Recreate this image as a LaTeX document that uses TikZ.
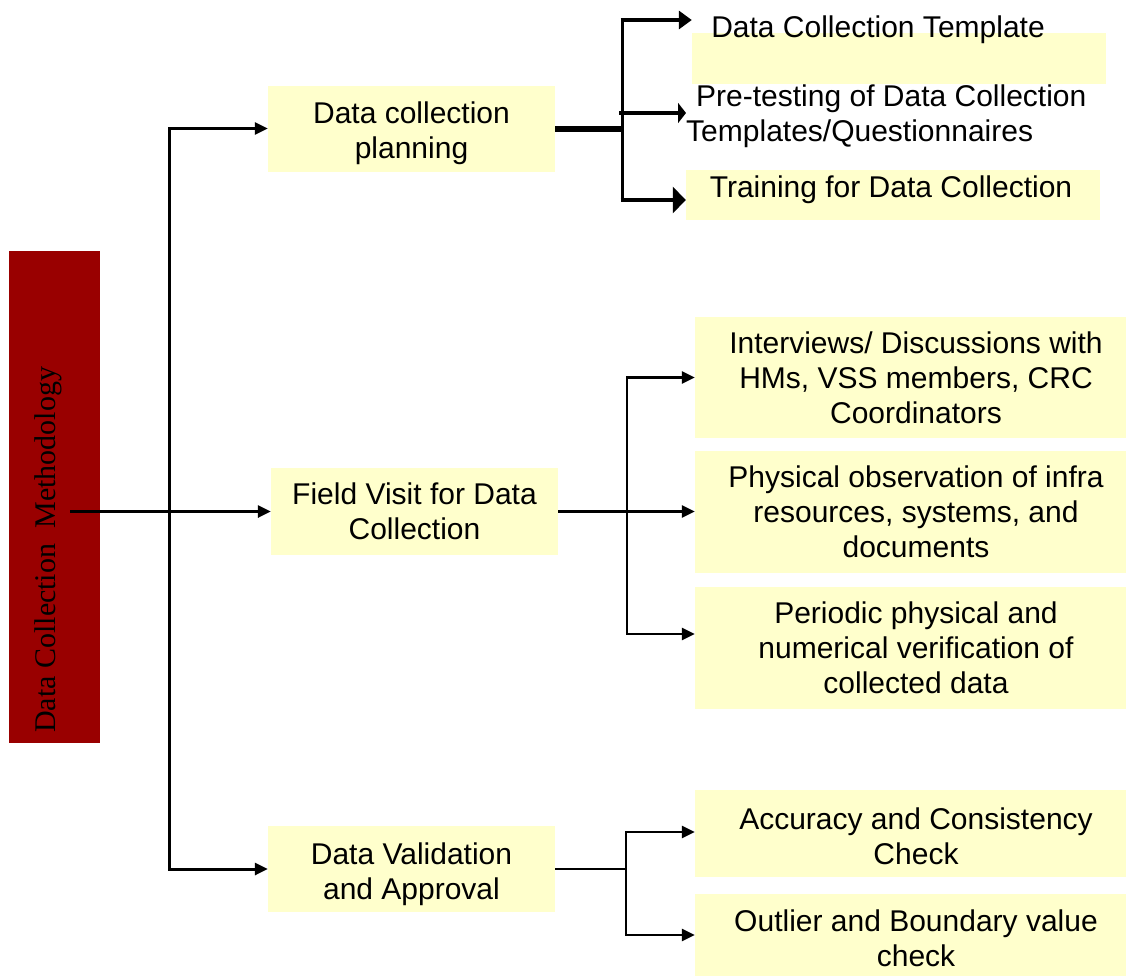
\documentclass[tikz,border=0pt]{standalone}
\usepackage{fontspec}
\setmainfont{Liberation Sans}
\newfontfamily\titleface{Liberation Serif}
\usetikzlibrary{arrows.meta}
\definecolor{boxfill}{HTML}{FFFFCC}
\definecolor{barred}{HTML}{990000}

\begin{document}
\begin{tikzpicture}[x=1pt,y=-1pt,
  box/.style={fill=boxfill, draw=none, inner sep=0pt, align=center,
              font=\fontsize{30}{35}\selectfont},
  lbl/.style={inner sep=0pt, font=\fontsize{30}{35}\selectfont},
  link/.style={line width=2.8pt, -{Triangle[length=13pt,width=12pt]}},
  bare/.style={line width=2.8pt},
]
\useasboundingbox (0,0) rectangle (1126,975);

% title bar
\node[fill=barred, inner sep=0pt, minimum width=91pt, minimum height=492pt] (bar) at (54.5,497) {};
\node[inner sep=0pt, rotate=90, anchor=base west, font=\titleface\fontsize{30}{35}\selectfont]
  (title) at (55,733) {Data Collection\ \ Methodology};

% first level
\node[box, minimum width=287pt, minimum height=86pt] (plan) at (411.5,128.5) {};
\node[lbl, align=center] (plantext) at ([yshift=-5pt]plan.center) {Data collection\\planning};
\node[box, minimum width=287pt, minimum height=87pt] (field) at (414.5,511.5) {Field Visit for Data\\Collection};
\node[box, minimum width=287pt, minimum height=86pt] (valid) at (411.5,869) {};
\node[lbl, align=center] (validtext) at ([yshift=-5pt]valid.center) {Data Validation\\and Approval};

% planning branch
\node[box, minimum width=414pt, minimum height=51pt] (tplbox) at (899,58.5) {};
\node[lbl, anchor=base] (tpl) at (878,37) {Data Collection Template};
\node[lbl, anchor=west, align=left] (pre) at (686,116)
  {\hspace{10pt}Pre-testing of Data Collection\\Templates/Questionnaires};
\node[box, minimum width=414pt, minimum height=50pt] (trainbox) at (893,195) {};
\node[lbl, anchor=base] (train) at (891,197) {Training for Data Collection};

% field visit branch
\node[box, minimum width=442pt, minimum height=121pt] (inter) at (916,377.5)
  {Interviews/ Discussions with\\HMs, VSS members, CRC\\Coordinators};
\node[box, minimum width=442pt, minimum height=122pt] (phys) at (916,512)
  {Physical observation of infra\\resources, systems, and\\documents};
\node[box, minimum width=442pt, minimum height=122pt] (period) at (916,648)
  {Periodic physical and\\numerical verification of\\collected data};

% validation branch
\node[box, minimum width=442pt, minimum height=87pt] (accur) at (916,833.5) {};
\node[lbl, align=center] (accurtext) at ([yshift=-3pt]accur.center) {Accuracy and Consistency\\Check};
\node[box, minimum width=442pt, minimum height=88pt] (outl) at (916,938)
  {Outlier and Boundary value\\check};

% trunk from the title bar
\coordinate (src) at (70,511.5);
\coordinate (hub) at (169,511.5);
\draw[link, line width=3pt] (src) -- (field.west);
\draw[link, line width=3pt] (hub) |- (plan.west);
\draw[link, line width=3pt] (hub) |- (valid.west);

% planning fork
\coordinate (pf) at (622,128.5);
\draw[line width=6pt] (plan.east) -- ([xshift=2pt]pf);
\draw[line width=3pt] (622,20) -- (622,200);
\draw[line width=4pt, -{Triangle[length=13pt,width=18pt]}] (620.5,20) -- (tplbox.west |- 0,20);
\draw[line width=3.5pt, -{Triangle[length=8pt,width=20pt]}] (619,113) -- (pre.west |- 0,113);
\draw[line width=4.5pt, -{Triangle[length=13pt,width=26pt]}] (620.5,200) -- (trainbox.west |- 0,200);

% field visit fork
\coordinate (ff) at (627,511.5);
\draw[link] (field.east) -- (field.east -| phys.west);
\draw[link] (ff) |- (inter.west);
\draw[link] (ff) |- (period.west |- 0,634);

% validation fork
\coordinate (vf) at (626,869);
\draw[bare] (valid.east) -- (vf);
\draw[link] (vf) |- (accur.west |- 0,832);
\draw[link] (vf) |- (outl.west |- 0,935);
\end{tikzpicture}
\end{document}
